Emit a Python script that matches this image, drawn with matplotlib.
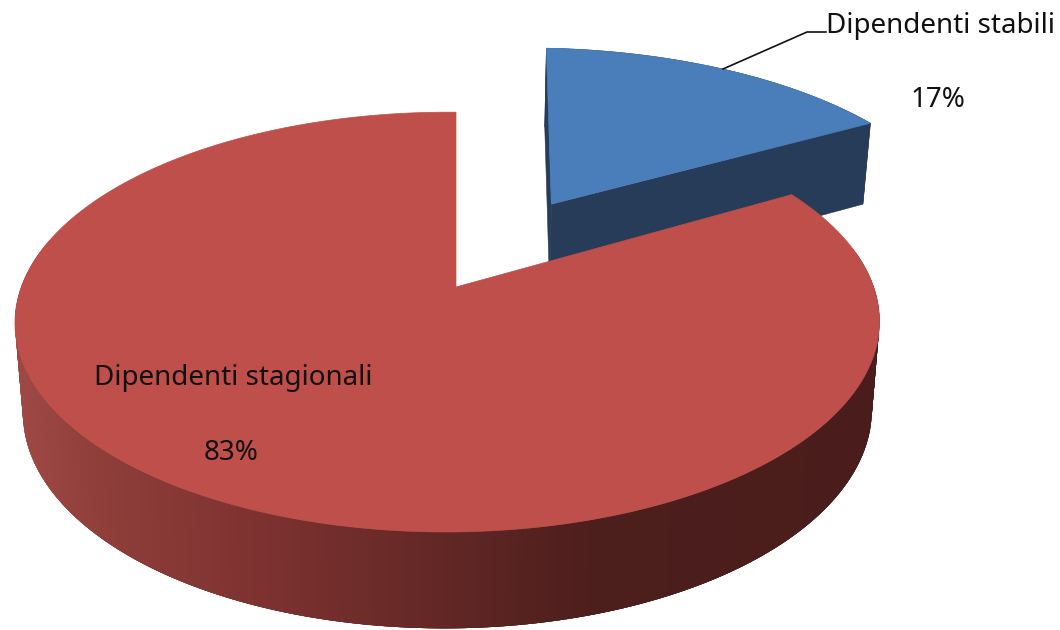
import numpy as np
import matplotlib
matplotlib.use('Agg')
import matplotlib.pyplot as plt
from matplotlib.patches import Polygon

labels = ['Dipendenti stabili', 'Dipendenti stagionali']
values = [16.7, 83.3]
pct_labels = ['17%', '83%']

# perspective of the pie, in pixels of the picture
cx, cy = 456, 287
A, B = 426, 204
p, q = 0.167, 0.02
depth = 88
shrink = 0.982
explode = 0.50
blue_ru, blue_rv = 1.047, 1.025


def project(u, v):
    w = 1 - p*v + q*u
    return cx + A*u/w, cy + B*v/w, w


def bottom(x, y, w):
    return cx + (x-cx)*shrink, y + depth/np.sqrt(w)


def shade(x):
    xs = [20, 100, 260, 400, 500, 600, 880]
    r = np.interp(x, xs, [158, 143, 125, 105, 90, 76, 74])
    g = np.interp(x, xs, [72, 62, 50, 42, 36, 30, 28])
    b = np.interp(x, xs, [68, 58, 48, 40, 34, 28, 27])
    return (r/255, g/255, b/255)


fig = plt.figure(figsize=(10.6, 6.3), dpi=100)
ax = fig.add_axes([0, 0, 1, 1])
ax.set_xlim(0, 1060)
ax.set_ylim(630, 0)
ax.axis('off')

sweep = 2*np.pi*values[0]/sum(values)

# blue slice, pushed out along its bisector
t = np.linspace(np.radians(1.3), sweep, 80)
ang = sweep/2 - np.radians(1.2)
du, dv = explode*np.sin(ang), -explode*np.cos(ang)
u = np.r_[du, du+blue_ru*np.sin(t)]
v = np.r_[dv, dv-blue_rv*np.cos(t)]
x, y, w = project(u, v)
xb, yb = bottom(x, y, w)
for i in range(len(x)):
    j = (i+1) % len(x)
    ax.add_patch(Polygon([(x[i], y[i]), (x[j], y[j]), (xb[j], yb[j]), (xb[i], yb[i])],
                         fc='#273C58', ec='#273C58', lw=0.4))
ax.add_patch(Polygon(np.c_[x, y], fc='#4A7EBB', ec='#4A7EBB', lw=0.5))

# red slice, side drawn in overlapping strips so the gradient has no seams
t = np.linspace(sweep, 2*np.pi, 500)
u = np.sin(t)
v = -np.cos(t)
x, y, w = project(u, v)
xb, yb = bottom(x, y, w)
for i in range(len(x)-4):
    if v[i] > -0.2:
        c = shade(x[i])
        ax.add_patch(Polygon([(x[i], y[i]), (x[i+4], y[i+4]), (xb[i+4], yb[i+4]), (xb[i], yb[i])],
                             fc=c, ec='none'))
ax.add_patch(Polygon(np.r_[[(cx, cy)], np.c_[x, y]], fc='#BE4F4B', ec='#BE4F4B', lw=0.5))

# labels
font = 'Noto Sans'
size = 20
ax.plot([723, 807, 826], [69, 32, 32], color='#111111', lw=1.2)
ax.text(826, 33, labels[0], fontsize=size, family=font, color='#111111', ha='left', va='baseline')
ax.text(938, 107, pct_labels[0], fontsize=size, family=font, color='#111111', ha='center', va='baseline')
ax.text(94, 385, labels[1], fontsize=size, family=font, color='#111111', ha='left', va='baseline')
ax.text(231, 460, pct_labels[1], fontsize=size, family=font, color='#111111', ha='center', va='baseline')

fig.savefig('out.png', dpi=100)
